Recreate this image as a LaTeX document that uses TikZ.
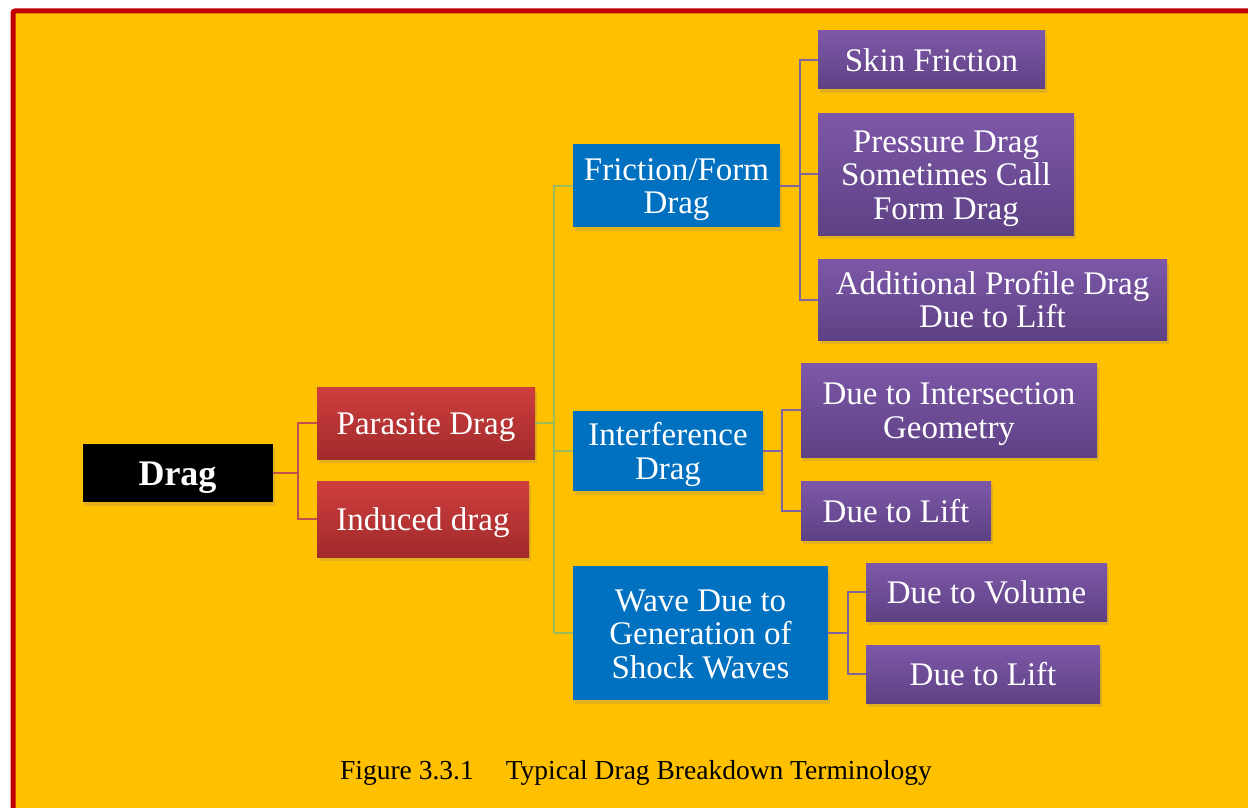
\documentclass[tikz,border=0pt]{standalone}
\usepackage{fontspec}
\setmainfont{Liberation Serif}
\usetikzlibrary{shadows}
\definecolor{bgorange}{HTML}{FFC000}
\definecolor{framered}{HTML}{C00000}
\definecolor{redtop}{HTML}{CF3E3D}
\definecolor{redbot}{HTML}{A12A2C}
\definecolor{purtop}{HTML}{7D58A8}
\definecolor{purbot}{HTML}{5E4184}
\definecolor{bluebox}{HTML}{0070C0}
\definecolor{redline}{HTML}{C0504D}
\definecolor{greenline}{HTML}{9BBB59}
\definecolor{purline}{HTML}{8064A2}
\newcommand\boxtxt[1]{\raisebox{-5pt}[\height][\depth]{\begin{tabular}{@{}c@{}}#1\end{tabular}}}
\begin{document}
\begin{tikzpicture}[x=1pt,y=-1pt,
  box/.style={inner sep=0pt, align=center, text=white,
    font=\fontsize{33}{33.5}\selectfont,
    drop shadow={opacity=0.22, shadow xshift=2pt, shadow yshift=-4pt}},
  blackbox/.style={box, fill=black, font=\fontsize{36}{38}\selectfont\bfseries},
  redbox/.style={box, top color=redtop, bottom color=redbot},
  bluebx/.style={box, fill=bluebox},
  purbox/.style={box, top color=purtop, bottom color=purbot},
  rline/.style={draw=redline, line width=2pt},
  gline/.style={draw=greenline, line width=2pt},
  pline/.style={draw=purline, line width=2pt}
]
\useasboundingbox (0,0) rectangle (1248,808);
\clip (0,0) rectangle (1248,808);
\fill[white] (0,0) rectangle (1248,808);
\draw[framered, line width=5pt, fill=bgorange, rounded corners=2pt] (13,11) rectangle (1275,835);

% level 0
\node[blackbox, minimum width=190pt, minimum height=58pt] (drag) at (177.5,473) {\boxtxt{Drag}};
% level 1
\node[redbox, minimum width=218pt, minimum height=72pt] (par) at (426,423) {\boxtxt{Parasite Drag}};
\node[redbox, minimum width=212pt, minimum height=76pt] (ind) at (423,519) {\boxtxt{Induced drag}};
% level 2
\node[bluebx, minimum width=207pt, minimum height=83pt] (fric) at (676.5,185.5) {\boxtxt{Friction/Form\\Drag}};
\node[bluebx, minimum width=190pt, minimum height=80pt] (intf) at (668,451) {\boxtxt{Interference\\Drag}};
\node[bluebx, minimum width=255pt, minimum height=134pt] (wave) at (700.5,633) {\boxtxt{Wave Due to\\Generation of\\Shock Waves}};
% level 3
\node[purbox, minimum width=227pt, minimum height=58pt] (skin) at (931.5,60) {\boxtxt{Skin Friction}};
\node[purbox, minimum width=256pt, minimum height=122pt] (press) at (946,174) {\boxtxt{Pressure Drag\\Sometimes Call\\Form Drag}};
\node[purbox, minimum width=349pt, minimum height=81pt] (addl) at (992.5,299.5) {\boxtxt{Additional Profile Drag\\Due to Lift}};
\node[purbox, minimum width=296pt, minimum height=94pt] (inters) at (949,410) {\boxtxt{Due to Intersection\\Geometry}};
\node[purbox, minimum width=190pt, minimum height=59pt] (lift1) at (896,510.5) {\boxtxt{Due to Lift}};
\node[purbox, minimum width=241pt, minimum height=58pt] (vol) at (986.5,592) {\boxtxt{Due to Volume}};
\node[purbox, minimum width=234pt, minimum height=58pt] (lift2) at (983,674) {\boxtxt{Due to Lift}};

% connectors
\coordinate (j0) at (298,473);
\draw[rline] (drag.east) -- (j0) |- (par.west);
\draw[rline] (j0) |- (ind.west);

\coordinate (j1) at (554,423);
\draw[gline] (par.east) -- (j1) |- (fric.west);
\draw[gline] (j1) |- (intf.west);
\draw[gline] (j1) |- (wave.west);

\coordinate (j2) at (800,185.5);
\draw[pline] (fric.east) -- (j2) |- (skin.west);
\draw[pline] (j2) |- (press.west);
\draw[pline] (j2) |- (addl.west);

\coordinate (j3) at (782,451);
\draw[pline] (intf.east) -- (j3) |- (inters.west);
\draw[pline] (j3) |- (lift1.west);

\coordinate (j4) at (848,633);
\draw[pline] (wave.east) -- (j4) |- (vol.west);
\draw[pline] (j4) |- (lift2.west);

% caption
\node[font=\fontsize{27.5}{30}\selectfont, text=black, inner sep=0pt] (cap) at (636,773) {Figure 3.3.1\hspace{32pt}Typical Drag Breakdown Terminology};
\end{tikzpicture}
\end{document}
